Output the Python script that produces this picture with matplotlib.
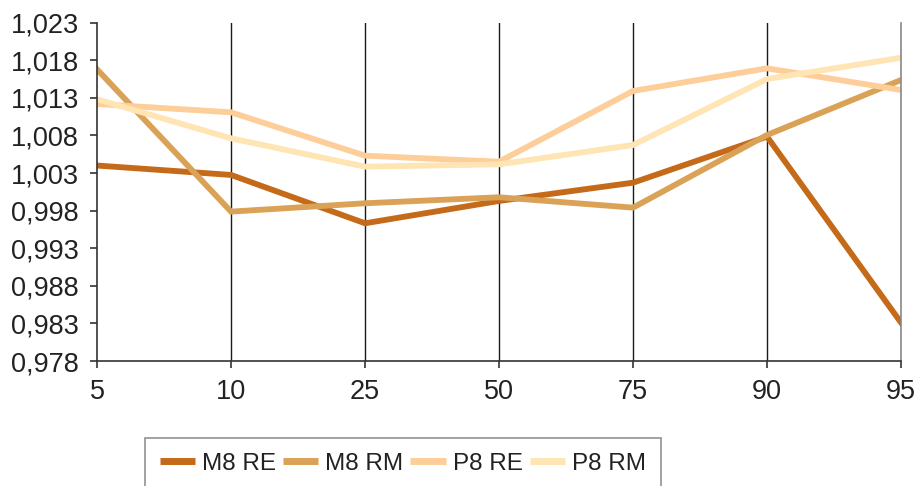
import matplotlib.pyplot as plt

plt.rcParams['font.family'] = ['Liberation Sans', 'DejaVu Sans']

percentiles = ["5", "10", "25", "50", "75", "90", "95"]

m8_re = [1.0040, 1.00275, 0.99632, 0.99929, 1.00172, 1.00784, 0.9831]
m8_rm = [1.0168, 0.99787, 0.99898, 0.99978, 0.9984, 1.00806, 1.01538]
p8_re = [1.01219, 1.01108, 1.00531, 1.00451, 1.01392, 1.01693, 1.01405]
p8_rm = [1.01281, 1.00762, 1.00385, 1.00416, 1.00673, 1.01551, 1.01834]

series = [
    ("M8 RE", m8_re, "#C46A19"),
    ("M8 RM", m8_rm, "#DAA256"),
    ("P8 RE", p8_re, "#FDCE99"),
    ("P8 RM", p8_rm, "#FFE4B4"),
]

y_ticks = [0.978 + 0.005 * i for i in range(10)]

fig = plt.figure(figsize=(9.17, 4.86), dpi=100)
ax = fig.add_axes([0.1058, 0.2572, 0.8768, 0.6961])

xs = list(range(len(percentiles)))
for name, values, color in series:
    ax.plot(xs, values, color=color, lw=4.2, label=name, solid_joinstyle="miter")

# vertical separators between categories
for x in xs[1:-1]:
    ax.axvline(x, color="#1a1a1a", lw=1.0, zorder=0)

ax.set_xlim(0, len(percentiles) - 1)
ax.set_ylim(0.978, 1.023)
ax.set_xticks(xs)
ax.set_xticklabels(percentiles)
ax.set_yticks(y_ticks)
ax.set_yticklabels([f"{v:.3f}".replace(".", ",") for v in y_ticks])

ax.spines["top"].set_visible(False)
ax.spines["left"].set_color("#333333")
ax.spines["bottom"].set_color("#333333")
ax.spines["right"].set_color("#888888")
for s in ("left", "bottom", "right"):
    ax.spines[s].set_linewidth(1.2)

ax.tick_params(axis="y", direction="out", length=5, width=1.2, color="#333333",
               labelsize=19.5, pad=8, labelcolor="#222222")
ax.tick_params(axis="x", direction="out", length=5, width=1.2, color="#333333",
               labelsize=19.5, pad=8, labelcolor="#222222")

leg = fig.legend(loc="upper left", bbox_to_anchor=(145 / 917, 1 - 438 / 486),
                 ncol=4, fontsize=17.5, frameon=True, fancybox=False,
                 handlelength=1.45, handletextpad=0.3, columnspacing=0.28,
                 borderpad=0.6, borderaxespad=0)
leg.get_frame().set_edgecolor("#777777")
leg.get_frame().set_linewidth(1.2)
for line in leg.get_lines():
    line.set_linewidth(5.0)
    line.set_solid_capstyle("butt")
for t in leg.get_texts():
    t.set_color("#222222")

fig.savefig("out.png", dpi=100)
